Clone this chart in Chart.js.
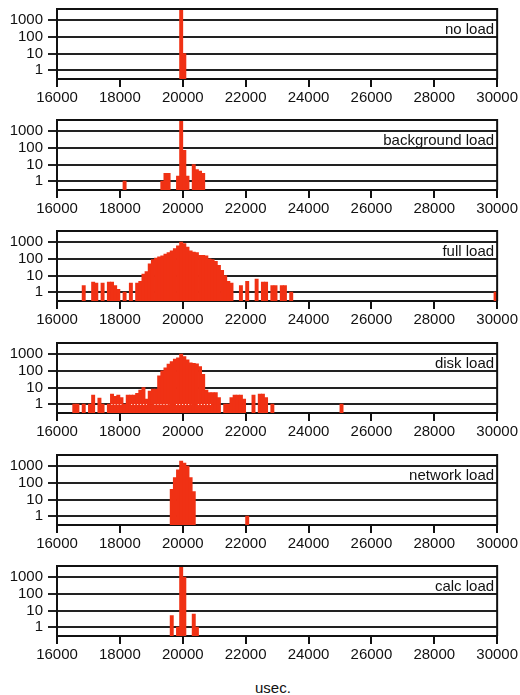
<!DOCTYPE html>
<html>
<head>
<meta charset="utf-8">
<script src="https://cdn.jsdelivr.net/npm/chart.js@4.4.1/dist/chart.umd.min.js"></script>
<style>
  html, body { margin: 0; padding: 0; background: #fff; }
  body { width: 520px; height: 695px; position: relative; overflow: hidden;
         font-family: "Liberation Sans", Arial, sans-serif; }
  .panel { position: absolute; left: 0; width: 520px; height: 111px; }
  #unit { position: absolute; left: 255px; top: 679px; font-size: 15px; color: #111; }
</style>
</head>
<body>
<div class="panel" style="top:0px"><canvas id="c0"></canvas></div>
<div class="panel" style="top:111px"><canvas id="c1"></canvas></div>
<div class="panel" style="top:222px"><canvas id="c2"></canvas></div>
<div class="panel" style="top:334px"><canvas id="c3"></canvas></div>
<div class="panel" style="top:446px"><canvas id="c4"></canvas></div>
<div class="panel" style="top:557px"><canvas id="c5"></canvas></div>
<div id="unit">usec.</div>
<script>
// axis ticks
const xTicks = [16000, 18000, 20000, 22000, 24000, 26000, 28000, 30000];
const yTicks = [1, 10, 100, 1000];

// histogram bins (bin centre in usec) and counts, one pair per load case
const noLoadBins = [19950, 20050];
const noLoadCounts = [5000, 10];

const bgLoadBins = [18150, 19350, 19450, 19550, 19850, 19950, 20050, 20150, 20350, 20450, 20550, 20650];
const bgLoadCounts = [1, 1, 3, 3, 2, 5000, 70, 2, 10, 5, 4, 3];

const fullLoadBins = [16850, 17150, 17250, 17450, 17650, 17750, 17850, 17950, 18150, 18350,
  18550, 18650, 18750, 18850, 18950, 19050, 19150, 19250, 19350, 19450,
  19550, 19650, 19750, 19850, 19950, 20050, 20150, 20250, 20350, 20450,
  20550, 20650, 20750, 20850, 20950, 21050, 21150, 21250, 21350, 21450,
  21550, 21850, 22050, 22350, 22550, 22650, 22850, 22950, 23150, 23250,
  23450, 29950];
const fullLoadCounts = [2.5, 4, 3.5, 3.5, 4, 4, 2.5, 1.5, 1, 3.5,
  3.5, 4.5, 12, 17, 50, 90, 110, 130, 150, 190,
  230, 300, 400, 600, 1000, 800, 500, 300, 250, 230,
  160, 160, 150, 100, 90, 70, 40, 20, 10, 4.5,
  3.5, 2.5, 4.5, 6, 4, 4, 2.5, 2.5, 2.5, 2.5,
  1, 1];

const diskLoadBins = [16550, 16650, 16850, 17050, 17150, 17350, 17450, 17650, 17750, 17850,
  17950, 18050, 18150, 18250, 18350, 18450, 18550, 18650, 18750, 18850,
  18950, 19050, 19150, 19250, 19350, 19450, 19550, 19650, 19750, 19850,
  19950, 20050, 20150, 20250, 20350, 20450, 20550, 20650, 20750, 20850,
  20950, 21050, 21150, 21350, 21450, 21550, 21650, 21750, 21850, 21950,
  22250, 22450, 22550, 22650, 22850, 25050];
const diskLoadCounts = [1, 1, 1, 1, 3.5, 2.3, 1, 1, 4, 3,
  3.5, 2.5, 1, 3.5, 3.5, 3.5, 4.5, 7, 10, 2,
  6, 8, 8, 50, 100, 150, 250, 350, 500, 600,
  1000, 700, 450, 300, 280, 260, 180, 60, 7, 5,
  5, 5, 2.5, 1, 1, 2.5, 3.5, 3.5, 3.5, 2,
  3.5, 4, 4, 2.5, 1, 1];

const netLoadBins = [19650, 19750, 19850, 19950, 20050, 20150, 20250, 20350, 22050];
const netLoadCounts = [40, 200, 600, 2000, 1500, 1000, 200, 30, 1];

const calcLoadBins = [19650, 19850, 19950, 20050, 20350, 20450];
const calcLoadCounts = [5, 1, 5000, 1000, 6, 1];

const panelNames = ['no load', 'background load', 'full load', 'disk load', 'network load', 'calc load'];

const FONT = '"Liberation Sans", Arial, sans-serif';
const INK = '#111';
const BAR = '#f03114';

// top and right edge of the plot box
const frame = {
  id: 'frame',
  afterDatasetsDraw(chart) {
    const { ctx, chartArea: a } = chart;
    ctx.save();
    ctx.strokeStyle = INK;
    ctx.lineWidth = 2;
    ctx.beginPath();
    ctx.moveTo(a.left, a.top);
    ctx.lineTo(a.right, a.top);
    ctx.lineTo(a.right, a.bottom);
    ctx.stroke();
    ctx.restore();
  }
};

// white dotted trace over the bars (seen in the disk load panel)
const dotted = {
  id: 'dotted',
  afterDatasetsDraw(chart, args, opts) {
    if (!opts.runs || !opts.runs.length) return;
    const { ctx, scales: { x, y } } = chart;
    const py = Math.round(y.getPixelForValue(1)) + 0.5;
    ctx.save();
    ctx.strokeStyle = '#fff';
    ctx.lineWidth = 1;
    ctx.setLineDash([1, 2]);
    opts.runs.forEach(r => {
      ctx.beginPath();
      ctx.moveTo(x.getPixelForValue(r[0]), py);
      ctx.lineTo(x.getPixelForValue(r[1]), py);
      ctx.stroke();
    });
    ctx.restore();
  }
};

// panel caption inside the top-right of the plot
const caption = {
  id: 'caption',
  afterDraw(chart, args, opts) {
    const { ctx, chartArea: a, scales: { y } } = chart;
    ctx.save();
    ctx.font = '15px ' + FONT;
    ctx.fillStyle = INK;
    ctx.textAlign = 'right';
    ctx.textBaseline = 'alphabetic';
    ctx.fillText(opts.text, a.right - 3, y.getPixelForValue(100) - 3);
    ctx.restore();
  }
};

function makePanel(id, name, bins, counts, runs) {
  return new Chart(document.getElementById(id), {
    type: 'bar',
    data: {
      datasets: [{
        label: name,
        data: bins.map((b, i) => ({ x: b, y: counts[i] })),
        backgroundColor: BAR,
        borderWidth: 0,
        inflateAmount: 0.4,
        barPercentage: 1,
        categoryPercentage: 1
      }]
    },
    options: {
      responsive: true,
      maintainAspectRatio: false,
      animation: false,
      layout: { padding: { top: 9, right: 22, left: 0, bottom: 0 } },
      plugins: {
        legend: { display: false },
        tooltip: { enabled: false },
        caption: { text: name },
        dotted: { runs: runs || [] }
      },
      scales: {
        x: {
          type: 'linear',
          min: 16000,
          max: 30000,
          offset: false,
          afterBuildTicks: s => { s.ticks = xTicks.map(v => ({ value: v })); },
          afterFit: s => { s.height = 32; },
          ticks: {
            callback: v => String(v),
            autoSkip: false,
            maxRotation: 0,
            padding: 2,
            color: INK,
            font: { family: FONT, size: 15 }
          },
          grid: { drawOnChartArea: false, drawTicks: true, tickLength: 8, color: INK, lineWidth: 2, offset: false },
          border: { color: INK, width: 2 }
        },
        y: {
          type: 'logarithmic',
          min: 0.3,
          max: 4600,
          afterBuildTicks: s => { s.ticks = yTicks.map(v => ({ value: v })); },
          afterFit: s => { s.width = 57; s.paddingTop = 0; s.paddingBottom = 0; },
          ticks: {
            callback: v => String(v),
            autoSkip: false,
            padding: 5,
            color: INK,
            font: { family: FONT, size: 15 }
          },
          grid: { color: '#222', lineWidth: 2, drawTicks: true, tickLength: 9 },
          border: { color: INK, width: 2 }
        }
      }
    },
    plugins: [frame, dotted, caption]
  });
}

makePanel('c0', panelNames[0], noLoadBins, noLoadCounts);
makePanel('c1', panelNames[1], bgLoadBins, bgLoadCounts);
makePanel('c2', panelNames[2], fullLoadBins, fullLoadCounts);
makePanel('c3', panelNames[3], diskLoadBins, diskLoadCounts,
  [[17730, 18050], [18360, 18860], [19100, 19580], [19790, 20270], [20480, 20950]]);
makePanel('c4', panelNames[4], netLoadBins, netLoadCounts);
makePanel('c5', panelNames[5], calcLoadBins, calcLoadCounts);
</script>
</body>
</html>
